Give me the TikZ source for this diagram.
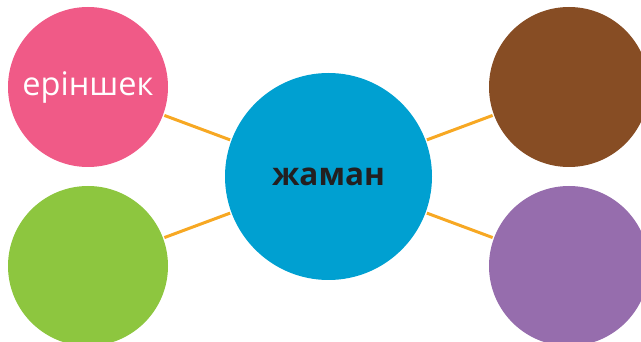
\documentclass[tikz,border=0pt]{standalone}
\usepackage{fontspec}
\setmainfont{Open Sans}
\usetikzlibrary{positioning}
\definecolor{pinkc}{HTML}{F05A87}
\definecolor{greenc}{HTML}{8DC63F}
\definecolor{bluec}{HTML}{00A0D1}
\definecolor{brownc}{HTML}{874D24}
\definecolor{purplec}{HTML}{966DAD}
\definecolor{linec}{HTML}{F7A823}
\definecolor{textc}{HTML}{231F20}
\tikzset{font=\fontsize{32.5}{38}\selectfont}

\begin{document}
\begin{tikzpicture}[x=1pt,y=-1pt,line width=3pt]
\tikzstyle{every node}=[circle,draw=none,inner sep=0pt]
\tikzstyle{small}=[minimum size=160pt]
\tikzstyle{link}=[draw=linec,line width=3pt]

\useasboundingbox (0,0) rectangle (641,342);

\node[fill=bluec,minimum size=207pt,text=textc,font=\fontsize{31.5}{38}\selectfont\bfseries]
      (C) at (328.5,176.5) {жаман};
\node[small,fill=pinkc,text=white] (P) at (88,87)  {еріншек};
\node[small,fill=greenc]           (G) at (88,266) {};
\node[small,fill=brownc]           (B) at (569,87) {};
\node[small,fill=purplec]          (V) at (569,266) {};

\path[link] (P) -- (C)
            (G) -- (C)
            (B) -- (C)
            (V) -- (C);

\end{tikzpicture}
\end{document}
